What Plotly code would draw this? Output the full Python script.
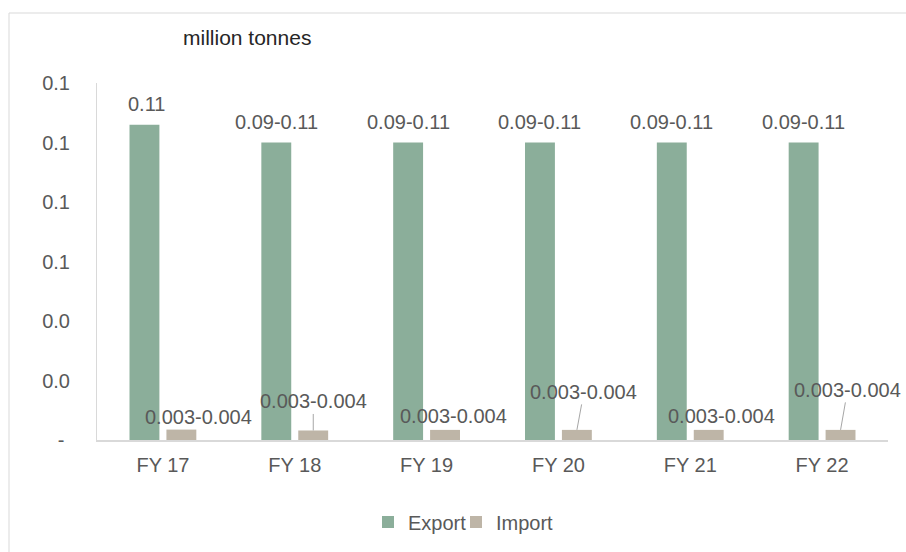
import plotly.graph_objects as go

categories = ["FY 17", "FY 18", "FY 19", "FY 20", "FY 21", "FY 22"]
export_vals = [0.106, 0.100, 0.100, 0.100, 0.100, 0.100]
import_vals = [0.0035, 0.0032, 0.0034, 0.0034, 0.0034, 0.0034]
export_labels = ["0.11", "0.09-0.11", "0.09-0.11", "0.09-0.11", "0.09-0.11", "0.09-0.11"]
import_labels = ["0.003-0.004"] * 6
y_tickvals = [0, 0.02, 0.04, 0.06, 0.08, 0.10, 0.12]
y_ticktext = ["-\u00a0", "0.0", "0.0", "0.1", "0.1", "0.1", "0.1"]

# label placement (pixel offsets, presentation only)
import_label_pos = [
    dict(arrow=False, dx=17, dy=13),
    dict(arrow=True, dx=0, dy=-29),
    dict(arrow=False, dx=8, dy=14),
    dict(arrow=True, dx=7, dy=-38),
    dict(arrow=False, dx=13, dy=14),
    dict(arrow=True, dx=7, dy=-40),
]

FONT = "Arial, 'Liberation Sans', sans-serif"
FS = 20
TXT = "#595959"
GREEN = "#8BAE9A"
BEIGE = "#BEB5A7"
GROUP_OFF = 18.5

fig = go.Figure()
fig.add_trace(go.Bar(name="Export", x=categories, y=export_vals, marker_color=GREEN,
                     marker_line_width=0, legend="legend"))
fig.add_trace(go.Bar(name="Import", x=categories, y=import_vals, marker_color=BEIGE,
                     marker_line_width=0, legend="legend2"))

annotations = []
for i, c in enumerate(categories):
    annotations.append(dict(
        x=c, y=export_vals[i], xref="x", yref="y", text=export_labels[i],
        showarrow=False, xshift=-GROUP_OFF + (2 if i == 0 else 0), yshift=21,
        font=dict(size=FS, color=TXT, family=FONT)))
    p = import_label_pos[i]
    if p["arrow"]:
        annotations.append(dict(
            x=c, y=import_vals[i], xref="x", yref="y", text=import_labels[i],
            showarrow=True, arrowhead=0, arrowwidth=1, arrowcolor="#A6A6A6",
            ax=p["dx"], ay=p["dy"], xshift=GROUP_OFF, standoff=0,
            font=dict(size=FS, color=TXT, family=FONT)))
    else:
        annotations.append(dict(
            x=c, y=import_vals[i], xref="x", yref="y", text=import_labels[i],
            showarrow=False, xshift=GROUP_OFF + p["dx"], yshift=p["dy"],
            font=dict(size=FS, color=TXT, family=FONT)))

annotations.append(dict(
    x=(181 - 97) / 791, y=(440 - 37) / 357, xref="paper", yref="paper",
    xanchor="left", yanchor="middle", text="million tonnes", showarrow=False,
    font=dict(size=21, color="#262626", family=FONT)))

bx = (9 - 97) / 791
by = (440 - 13) / 357
shapes = [
    dict(type="line", xref="paper", yref="paper", x0=bx, x1=bx, y0=-1.0, y1=by,
         line=dict(color="#D9D9D9", width=1)),
    dict(type="line", xref="paper", yref="paper", x0=bx, x1=1.2, y0=by, y1=by,
         line=dict(color="#D9D9D9", width=1)),
]

legend_common = dict(orientation="h", xanchor="left",
                     y=(440 - 522) / 357, yanchor="middle",
                     bgcolor="rgba(0,0,0,0)",
                     font=dict(size=FS, color=TXT, family=FONT))

fig.update_layout(
    width=906, height=552,
    margin=dict(l=97, r=18, t=83, b=112, autoexpand=False),
    paper_bgcolor="white", plot_bgcolor="white",
    barmode="group", bargap=0.44, bargroupgap=0.19,
    font=dict(family=FONT, size=FS, color=TXT),
    showlegend=True,
    legend=dict(x=(368 - 97) / 791, **legend_common),
    legend2=dict(x=(456 - 97) / 791, **legend_common),
    annotations=annotations, shapes=shapes,
)
fig.update_xaxes(range=[-0.5, 5.5], autorange=False,
                 showline=True, linecolor="#D9D9D9", linewidth=2, showgrid=False,
                 ticks="", tickfont=dict(size=FS, color=TXT, family=FONT),
                 ticklabelstandoff=6)
fig.update_yaxes(range=[0, 0.12], tickvals=y_tickvals, ticktext=y_ticktext,
                 showline=True, linecolor="#D9D9D9", linewidth=1, showgrid=False,
                 zeroline=False, ticks="", tickfont=dict(size=FS, color=TXT, family=FONT),
                 ticklabelstandoff=22)

fig.write_html("out.html")
